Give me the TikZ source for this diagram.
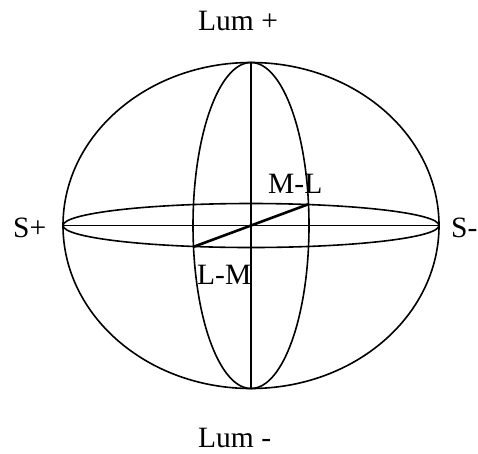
\documentclass[tikz,border=0pt]{standalone}
\usepackage{fontspec}
\setmainfont{Liberation Serif}
\usetikzlibrary{positioning}

\begin{document}
\begin{tikzpicture}[
  x=1pt,
  y=-1pt,
  axis/.style={line width=1.6pt, color=black},
  chroma/.style={line width=2.6pt, color=black},
  lbl/.style={anchor=base west, inner sep=0pt, font=\fontsize{29.5}{32}\selectfont}
]
  \useasboundingbox (0,0) rectangle (478,453);
  % centre of the colour solid
  \coordinate (c) at (251,225.5);
  \draw[axis] (c) ellipse [x radius=188, y radius=163];
  \draw[axis] (c) ellipse [x radius=58, y radius=163];
  \draw[axis] (c) ellipse [x radius=188, y radius=22];
  % axes
  \coordinate (top) at (251,62.5);
  \coordinate (bottom) at (251,388.5);
  \coordinate (left) at (63,225.5);
  \coordinate (right) at (439,225.5);
  \coordinate (lm) at (193,247);
  \coordinate (ml) at (309,204);
  \draw[axis] (top) -- (bottom);
  \draw[axis] (left) -- (right);
  \draw[chroma] (lm) -- (ml);
  % labels
  \node[lbl] (lumplus) at (198,30) {Lum +};
  \node[lbl] (lumminus) at (198,447) {Lum -};
  \node[lbl] (splus) at (13,237) {S+};
  \node[lbl] (sminus) at (451,237) {S-};
  \node[lbl] (mlabel) at (268,193) {M-L};
  \node[lbl] (llabel) at (197,284) {L-M};
\end{tikzpicture}
\end{document}
